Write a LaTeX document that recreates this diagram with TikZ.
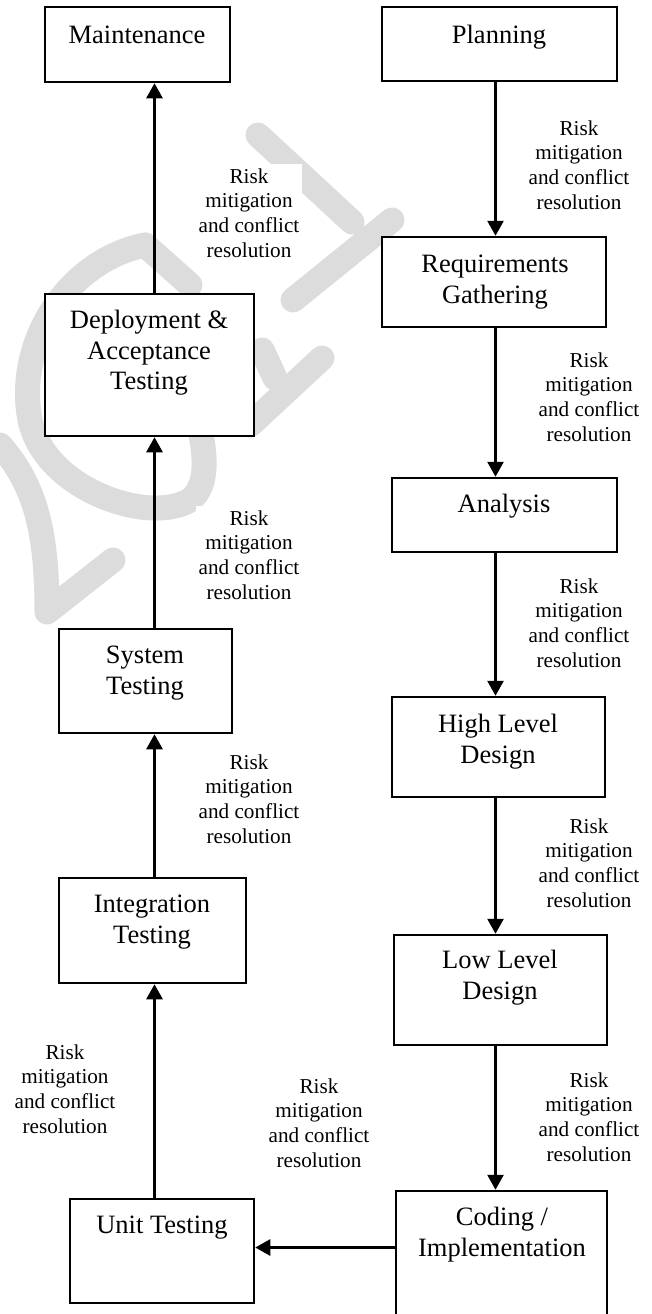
\documentclass[tikz,border=0pt]{standalone}
\usepackage{fontspec}
\setmainfont{Liberation Serif}
\usetikzlibrary{arrows.meta}
\definecolor{wmgray}{RGB}{220,220,220}
\tikzset{
  box/.style={draw, fill=white, line width=2.5pt, inner sep=0pt},
  boxtext/.style={font=\fontsize{26.5}{30.8}\selectfont, align=center, inner sep=0pt, anchor=north},
  lbl/.style={font=\fontsize{21.2}{24.6}\selectfont, align=center, fill=white, inner sep=3pt, anchor=north},
  arr/.style={line width=2.7pt, -{Triangle[length=15pt,width=16pt]}},
  wm/.style={wmgray, line width=25pt, line cap=round, line join=round}
}
\newcommand{\bt}{\rule{0pt}{20pt}}
\newcommand{\lt}{\rule{0pt}{16pt}}
\begin{document}
\begin{tikzpicture}[x=1pt,y=-1pt]
\useasboundingbox (0,0) rectangle (652,1314);
\clip (0,0) rectangle (652,1314);
\fill[white] (0,0) rectangle (652,1314);

% faint background mark
\draw[wm] (0,445) .. controls (35,485) and (47,530) .. (47,612) -- (113,560);
\draw[wm] (145,245) .. controls (70,260) and (15,340) .. (30,420)
          .. controls (45,490) and (150,525) .. (190,500)
          .. controls (210,485) and (205,450) .. (198,420);
\draw[wm] (145,245) -- (190,285);
\draw[wm] (258,135) -- (352,222);
\draw[wm] (392,220) -- (293,300);
\draw[wm] (322,358) -- (250,425);
\draw[wm] (262,350) -- (275,378);

% helper coordinates for the connector lines
\coordinate (lx) at (154.5,0);
\coordinate (rx) at (495.5,0);
\coordinate (hy) at (0,1247.5);

% left column
\node[box, minimum width=185pt, minimum height=75pt]  (maint) at (137.5,44.5) {};
\node[box, minimum width=209pt, minimum height=142pt] (dep)   at (149.5,365) {};
\node[box, minimum width=173pt, minimum height=104pt] (sys)   at (145.5,681) {};
\node[box, minimum width=187pt, minimum height=105pt] (integ) at (152.5,930.5) {};
\node[box, minimum width=184pt, minimum height=104pt] (unit)  at (162,1251) {};

% right column
\node[box, minimum width=235pt, minimum height=74pt]  (plan) at (499.5,44) {};
\node[box, minimum width=224pt, minimum height=90pt]  (req)  at (494,282) {};
\node[box, minimum width=225pt, minimum height=74pt]  (ana)  at (504.5,515) {};
\node[box, minimum width=213pt, minimum height=100pt] (hld)  at (498.5,747) {};
\node[box, minimum width=213pt, minimum height=110pt] (lld)  at (500.5,990) {};
\node[box, minimum width=211pt, minimum height=142pt] (code) at (501.5,1262) {};

% box captions
\node[boxtext] (tmaint) at (137,23)   {\bt Maintenance};
\node[boxtext] (tdep)   at (149,308)  {\bt Deployment \&\\Acceptance\\Testing};
\node[boxtext] (tsys)   at (145,643)  {\bt System\\Testing};
\node[boxtext] (tinteg) at (152,892)  {\bt Integration\\Testing};
\node[boxtext] (tunit)  at (162,1213) {\bt Unit Testing};
\node[boxtext] (tplan)  at (499,23)   {\bt Planning};
\node[boxtext] (treq)   at (495,252)  {\bt Requirements\\Gathering};
\node[boxtext] (tana)   at (504,492)  {\bt Analysis};
\node[boxtext] (thld)   at (498,712)  {\bt High Level\\Design};
\node[boxtext] (tlld)   at (500,948)  {\bt Low Level\\Design};
\node[boxtext] (tcode)  at (502,1205) {\bt Coding /\\Implementation};

% connectors
\draw[arr] (plan.south -| rx) -- (req.north -| rx);
\draw[arr] (req.south -| rx)  -- (ana.north -| rx);
\draw[arr] (ana.south -| rx)  -- (hld.north -| rx);
\draw[arr] (hld.south -| rx)  -- (lld.north -| rx);
\draw[arr] (lld.south -| rx)  -- (code.north -| rx);
\draw[arr] (code.west |- hy)  -- (unit.east |- hy);
\draw[arr] (unit.north -| lx)  -- (integ.south -| lx);
\draw[arr] (integ.north -| lx) -- (sys.south -| lx);
\draw[arr] (sys.north -| lx)   -- (dep.south -| lx);
\draw[arr] (dep.north -| lx)   -- (maint.south -| lx);

% connector labels
\node[lbl] (r1) at (579,116)  {\lt Risk\\mitigation\\and conflict\\resolution};
\node[lbl] (r2) at (589,348)  {\lt Risk\\mitigation\\and conflict\\resolution};
\node[lbl] (r3) at (579,574)  {\lt Risk\\mitigation\\and conflict\\resolution};
\node[lbl] (r4) at (589,814)  {\lt Risk\\mitigation\\and conflict\\resolution};
\node[lbl] (r5) at (589,1068) {\lt Risk\\mitigation\\and conflict\\resolution};
\node[lbl] (l5) at (319,1074) {\lt Risk\\mitigation\\and conflict\\resolution};
\node[lbl] (l4) at (65,1040)  {\lt Risk\\mitigation\\and conflict\\resolution};
\node[lbl] (l3) at (249,750)  {\lt Risk\\mitigation\\and conflict\\resolution};
\node[lbl] (l2) at (249,506)  {\lt Risk\\mitigation\\and conflict\\resolution};
\node[lbl] (l1) at (249,164)  {\lt Risk\\mitigation\\and conflict\\resolution};
\end{tikzpicture}
\end{document}
